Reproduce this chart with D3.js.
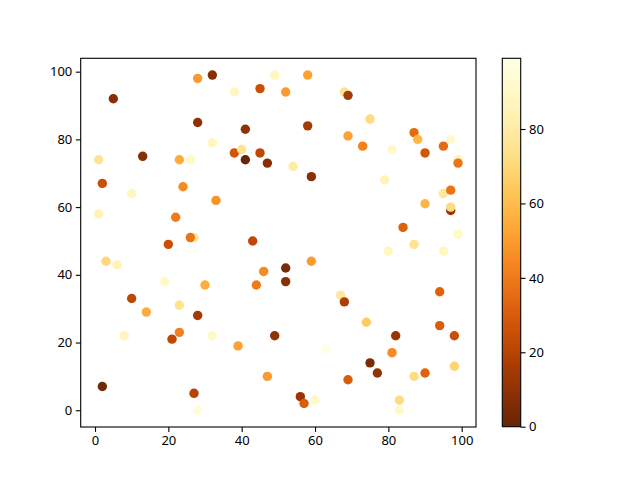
<!DOCTYPE html>
<html>
<head>
<meta charset="utf-8">
<title>Scatter</title>
<script src="https://cdn.jsdelivr.net/npm/d3@7"></script>
<style>
  body { margin: 0; background: #fff; }
  svg text { font-family: "Noto Sans", "DejaVu Sans", sans-serif; font-size: 13px; fill: #000; }
</style>
</head>
<body>
<script>
'use strict'
// point data
const xs = [2, 5, 1, 2, 1, 3, 6, 8, 10, 10, 13, 14, 19, 20, 21, 22, 23, 23, 23, 24,
            26, 27, 26, 27, 28, 28, 28, 28, 30, 32, 32, 32, 33, 38, 38, 39, 40, 41, 41, 43,
            44, 45, 45, 46, 47, 47, 49, 49, 52, 52, 52, 54, 56, 57, 58, 58, 59, 59, 60, 63,
            67, 68, 68, 69, 69, 69, 73, 74, 75, 75, 77, 79, 80, 81, 81, 82, 83, 83, 84, 87,
            87, 87, 88, 90, 90, 90, 94, 94, 95, 95, 95, 97, 97, 97, 97, 98, 98, 99, 99, 99]
const ys = [7, 92, 74, 67, 58, 44, 43, 22, 64, 33, 75, 29, 38, 49, 21, 57, 74, 31, 23, 66,
            74, 51, 51, 5, 98, 85, 28, 0, 37, 99, 79, 22, 62, 94, 76, 19, 77, 74, 83, 50,
            37, 95, 76, 41, 73, 10, 99, 22, 94, 42, 38, 72, 4, 2, 99, 84, 69, 44, 3, 18,
            34, 94, 32, 93, 9, 81, 78, 26, 86, 14, 11, 68, 47, 77, 17, 22, 3, 0, 54, 82,
            49, 10, 80, 76, 61, 11, 35, 25, 78, 64, 47, 80, 65, 59, 60, 22, 13, 74, 73, 52]
const cs = [3, 8, 75, 25, 85, 70, 85, 86, 88, 22, 8, 55, 90, 25, 22, 40, 55, 75, 42, 45,
            90, 76, 38, 20, 50, 10, 15, 95, 56, 8, 88, 90, 48, 88, 28, 52, 75, 0, 10, 22,
            40, 25, 22, 45, 7, 50, 88, 10, 50, 5, 8, 80, 12, 30, 52, 15, 8, 50, 90, 99,
            78, 75, 18, 15, 30, 52, 42, 65, 72, 5, 10, 85, 88, 90, 45, 12, 72, 90, 32, 35,
            75, 72, 58, 28, 58, 32, 32, 30, 35, 78, 88, 92, 38, 12, 72, 25, 68, 85, 38, 90]
const xTicks = [0, 20, 40, 60, 80, 100]
const yTicks = [0, 20, 40, 60, 80, 100]
const cTicks = [0, 20, 40, 60, 80]

const W = 640, H = 480
const plot = {left: 80.7, right: 476, top: 58.3, bottom: 427}
const bar = {left: 502.3, right: 520.7, top: 58.3, bottom: 426.7}
const lw = 1.1

const svg = d3.select('body').append('svg')
  .attr('width', W)
  .attr('height', H)

svg.append('rect').attr('width', W).attr('height', H).attr('fill', '#fff')

const x = d3.scaleLinear().domain([-3.9, 103.9]).range([plot.left, plot.right])
const y = d3.scaleLinear().domain([-4.95, 103.95]).range([plot.bottom, plot.top])
const cMin = d3.min(cs), cMax = d3.max(cs)
const color = c => d3.interpolateYlOrBr(1 - (c - cMin) / (cMax - cMin))

// points
const pts = xs.map((d, i) => ({x: d, y: ys[i], c: cs[i]}))
svg.append('g')
  .selectAll('circle')
  .data(pts)
  .join('circle')
  .attr('cx', d => x(d.x))
  .attr('cy', d => y(d.y))
  .attr('r', 4.7)
  .attr('fill', d => color(d.c))

// axes
const xAxis = d3.axisBottom(x).tickValues(xTicks).tickSize(4.9).tickPadding(3.5)
const yAxis = d3.axisLeft(y).tickValues(yTicks).tickSize(4.9).tickPadding(3.5)

function styleAxis(g) {
  g.select('.domain').remove()
  g.selectAll('.tick line').attr('stroke', '#000').attr('stroke-width', lw)
  g.selectAll('.tick text').attr('font-size', null).attr('font-family', null)
}

svg.append('g').attr('transform', `translate(0,${plot.bottom})`).call(xAxis).call(styleAxis)
svg.append('g').attr('transform', `translate(${plot.left},0)`).call(yAxis).call(styleAxis)

svg.append('rect')
  .attr('x', plot.left).attr('y', plot.top)
  .attr('width', plot.right - plot.left).attr('height', plot.bottom - plot.top)
  .attr('fill', 'none').attr('stroke', '#000').attr('stroke-width', lw)

// colorbar
const grad = svg.append('defs').append('linearGradient')
  .attr('id', 'cbar')
  .attr('x1', 0).attr('y1', 1).attr('x2', 0).attr('y2', 0)
d3.range(0, 1.0001, 0.02).forEach(t => {
  grad.append('stop')
    .attr('offset', t)
    .attr('stop-color', d3.interpolateYlOrBr(1 - t))
})

svg.append('rect')
  .attr('x', bar.left).attr('y', bar.top)
  .attr('width', bar.right - bar.left).attr('height', bar.bottom - bar.top)
  .attr('fill', 'url(#cbar)')
  .attr('stroke', '#000').attr('stroke-width', lw)

const cScale = d3.scaleLinear().domain([cMin, cMax]).range([bar.bottom, bar.top])
svg.append('g')
  .attr('transform', `translate(${bar.right},0)`)
  .call(d3.axisRight(cScale).tickValues(cTicks).tickSize(4.9).tickPadding(3.5))
  .call(styleAxis)
</script>
</body>
</html>
